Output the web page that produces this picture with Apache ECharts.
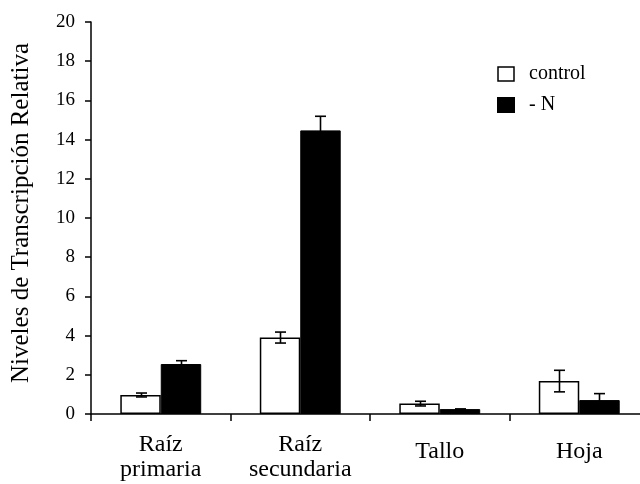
<!DOCTYPE html>
<html>
<head>
<meta charset="utf-8">
<script src="https://cdn.jsdelivr.net/npm/echarts@6/dist/echarts.min.js"></script>
<style>
  html, body { margin: 0; padding: 0; background: #fff; }
  #chart { width: 640px; height: 484px; }
</style>
</head>
<body>
<div id="chart"></div>
<script>
// Relative transcription levels per organ, control vs. nitrogen deprivation
const categories = ['Raíz\nprimaria', 'Raíz\nsecundaria', 'Tallo', 'Hoja'];
const controlValues = [0.97, 3.9, 0.53, 1.68];
const controlErrors = [0.1, 0.28, 0.12, 0.55];
const minusNValues = [2.55, 14.47, 0.25, 0.71];
const minusNErrors = [0.17, 0.72, 0.0, 0.33];
const yTicks = { min: 0, max: 20, interval: 2 };

const FONT = '"Liberation Serif", "Times New Roman", serif';
const BAR_GAP_PCT = 42;

function errorData(values, errors) {
  return values.map((v, i) => [i, v - errors[i], v + errors[i]]);
}

// Draws a vertical whisker with caps, offset to sit over the given bar of the pair
function errorRenderer(side) {
  return function (params, api) {
    const idx = api.value(0);
    const band = api.size([1, 0])[0];
    const barW = band * (1 - BAR_GAP_PCT / 100) / 2;
    const lo = api.coord([idx, api.value(1)]);
    const hi = api.coord([idx, api.value(2)]);
    const x = Math.round(lo[0] + side * barW / 2) + 0.5;
    const cap = 5.5;
    const style = { stroke: '#000', lineWidth: 1.6 };
    return {
      type: 'group',
      children: [
        { type: 'line', shape: { x1: x, y1: hi[1], x2: x, y2: lo[1] }, style },
        { type: 'line', shape: { x1: x - cap, y1: hi[1], x2: x + cap, y2: hi[1] }, style },
        { type: 'line', shape: { x1: x - cap, y1: lo[1], x2: x + cap, y2: lo[1] }, style }
      ]
    };
  };
}

const chart = echarts.init(document.getElementById('chart'), null, { renderer: 'canvas' });
chart.setOption({
  animation: false,
  backgroundColor: '#fff',
  textStyle: { fontFamily: FONT, color: '#000' },
  grid: { left: 91, top: 22, width: 558, height: 392, outerBoundsMode: 'none', containLabel: false },
  legend: {
    orient: 'vertical',
    left: 497,
    top: 64,
    padding: 0,
    itemWidth: 16,
    itemHeight: 14,
    itemGap: 11,
    icon: 'rect',
    textStyle: { fontFamily: FONT, fontSize: 20, color: '#000', padding: [0, 0, 0, 10] },
    data: [
      { name: 'control', itemStyle: { color: '#fff', borderColor: '#000', borderWidth: 1.5 } },
      { name: '- N', itemStyle: { color: '#000' } }
    ]
  },
  xAxis: {
    type: 'category',
    data: categories,
    axisLine: { lineStyle: { color: '#000', width: 1.5 } },
    axisTick: { show: true, length: 7, alignWithLabel: false, lineStyle: { color: '#000', width: 1.5 } },
    axisLabel: {
      interval: 0,
      color: '#000',
      fontFamily: FONT,
      fontSize: 24,
      lineHeight: 25,
      margin: 18,
      formatter: (v) => (v.indexOf('\n') >= 0 ? v : '{s|' + v + '}'),
      rich: {
        s: { fontFamily: FONT, fontSize: 24, lineHeight: 25, color: '#000', padding: [14, 0, 0, 0] }
      }
    }
  },
  yAxis: {
    type: 'value',
    min: yTicks.min,
    max: yTicks.max,
    interval: yTicks.interval,
    name: 'Niveles de Transcripción Relativa',
    nameLocation: 'middle',
    nameGap: 57,
    nameTextStyle: { fontFamily: FONT, fontSize: 25, color: '#000', padding: [0, 0, 0, 10] },
    splitLine: { show: false },
    axisLine: { show: true, lineStyle: { color: '#000', width: 1.5 } },
    axisTick: { show: true, length: 6, lineStyle: { color: '#000', width: 1.5 } },
    axisLabel: { color: '#000', fontFamily: FONT, fontSize: 19, margin: 16 }
  },
  series: [
    {
      name: 'control',
      type: 'bar',
      data: controlValues,
      barGap: '0%',
      barCategoryGap: BAR_GAP_PCT + '%',
      itemStyle: { color: '#fff', borderColor: '#000', borderWidth: 1.5 }
    },
    {
      name: '- N',
      type: 'bar',
      data: minusNValues,
      barGap: '0%',
      barCategoryGap: BAR_GAP_PCT + '%',
      itemStyle: { color: '#000', borderColor: '#000', borderWidth: 1 }
    },
    {
      type: 'custom',
      name: 'control-err',
      renderItem: errorRenderer(-1),
      data: errorData(controlValues, controlErrors),
      z: 10,
      silent: true
    },
    {
      type: 'custom',
      name: 'minusN-err',
      renderItem: errorRenderer(1),
      data: errorData(minusNValues, minusNErrors),
      z: 10,
      silent: true
    }
  ]
});
</script>
</body>
</html>
